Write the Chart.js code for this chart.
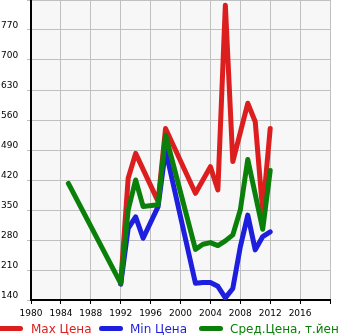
<!DOCTYPE html>
<html>
<head>
<meta charset="utf-8">
<script src="https://cdn.jsdelivr.net/npm/chart.js@4/dist/chart.umd.min.js"></script>
<style>
  html, body { margin: 0; padding: 0; background: #fff; overflow: hidden; width: 345px; height: 335px; }
  #wrap { position: relative; width: 345px; height: 335px; }
  canvas { position: absolute; left: 0; top: 0; }
  .mk { position: absolute; top: 326px; height: 5px; width: 24px; border-radius: 3px; }
  .lt { position: absolute; top: 322px; font: 12px "DejaVu Sans", sans-serif; line-height: 14px; white-space: nowrap; }
</style>
</head>
<body>
<div id="wrap">
  <canvas id="c" width="345" height="335"></canvas>
  <div class="mk" style="left:-2px;width:25px;background:#dc1e1e"></div>
  <div class="lt" style="left:31px;color:#dc1e1e">Max Цена</div>
  <div class="mk" style="left:99px;background:#1e1ede"></div>
  <div class="lt" style="left:130px;color:#1e1ede">Min Цена</div>
  <div class="mk" style="left:199px;background:#0a800a"></div>
  <div class="lt" style="left:230px;color:#0a800a">Сред.Цена, т.йен</div>
</div>
<script>
const years    = [1985, 1992, 1993, 1994, 1995, 1997, 1998, 2002, 2003, 2004, 2005, 2006, 2007, 2008, 2009, 2010, 2011, 2012];
const maxPrice = [null, 178, 424, 482, null, 370, 540, 389, null, 451, 397, 828, 463, null, 599, 556, 346, 540];
const minPrice = [null, 177, 307, 334, 284, 358, 490, 179, 181, 181, 172, 145, 167, 264, 338, 257, 288, 299];
const avgPrice = [412, 179, 350, 420, 358, 362, 525, 258, 270, 274, 267, 278, 292, 350, 468, null, 305, 442];
const seriesNames = ['Max Цена', 'Min Цена', 'Сред.Цена, т.йен'];
const xTickLabels = [1980, 1984, 1988, 1992, 1996, 2000, 2004, 2008, 2012, 2016];
const yTickLabels = [140, 210, 280, 350, 420, 490, 560, 630, 700, 770];

function pts(vals) {
  const out = [];
  years.forEach((y, i) => { if (vals[i] !== null) out.push({x: y, y: vals[i]}); });
  return out;
}

const bgPlugin = {
  id: 'bg',
  beforeDraw(chart) {
    const {ctx, chartArea: a} = chart;
    ctx.save();
    ctx.fillStyle = '#f7f7f7';
    ctx.fillRect(a.left, a.top, a.right - a.left, a.bottom - a.top);
    ctx.restore();
  }
};

const common = { borderWidth: 5, pointRadius: 0, tension: 0, fill: false,
  borderJoinStyle: 'round', borderCapStyle: 'round', spanGaps: true };

new Chart(document.getElementById('c'), {
  type: 'line',
  data: {
    datasets: [
      Object.assign({ label: seriesNames[0], data: pts(maxPrice), borderColor: '#dc1e1e', order: 2 }, common),
      Object.assign({ label: seriesNames[1], data: pts(minPrice), borderColor: '#1e1ede', order: 1 }, common),
      Object.assign({ label: seriesNames[2], data: pts(avgPrice), borderColor: '#0a800a', order: 0 }, common)
    ]
  },
  options: {
    responsive: false,
    animation: false,
    devicePixelRatio: 1,
    layout: { padding: { left: 1, right: 15, top: 0, bottom: 15 } },
    plugins: { legend: { display: false }, tooltip: { enabled: false } },
    scales: {
      x: {
        type: 'linear', min: 1980, max: 2020,
        afterBuildTicks(s) { s.ticks = xTickLabels.concat([2020]).map(v => ({value: v})); },
        afterFit(s) { s.height = 20; s.paddingLeft = 0; s.paddingRight = 0; },
        ticks: {
          callback: v => xTickLabels.includes(v) ? String(v) : '',
          color: '#000', font: { family: 'DejaVu Sans', size: 9 }, padding: 4, maxRotation: 0, autoSkip: false
        },
        grid: { color: '#c0c0c0', lineWidth: 1, tickLength: 4, tickColor: '#000' },
        border: { color: '#000', width: 2 }
      },
      y: {
        min: 140, max: 840,
        afterBuildTicks(s) { s.ticks = yTickLabels.concat([840]).map(v => ({value: v})); },
        afterFit(s) { s.width = 30; s.paddingTop = 0; s.paddingBottom = 0; },
        ticks: {
          callback: v => yTickLabels.includes(v) ? String(v) : '',
          color: '#000', font: { family: 'DejaVu Sans', size: 9 }, padding: 2,
          crossAlign: 'far', labelOffset: -4
        },
        grid: { color: '#c0c0c0', lineWidth: 1, tickLength: 4, tickColor: '#c0c0c0' },
        border: { color: '#000', width: 2 }
      }
    }
  },
  plugins: [bgPlugin]
});
</script>
</body>
</html>
